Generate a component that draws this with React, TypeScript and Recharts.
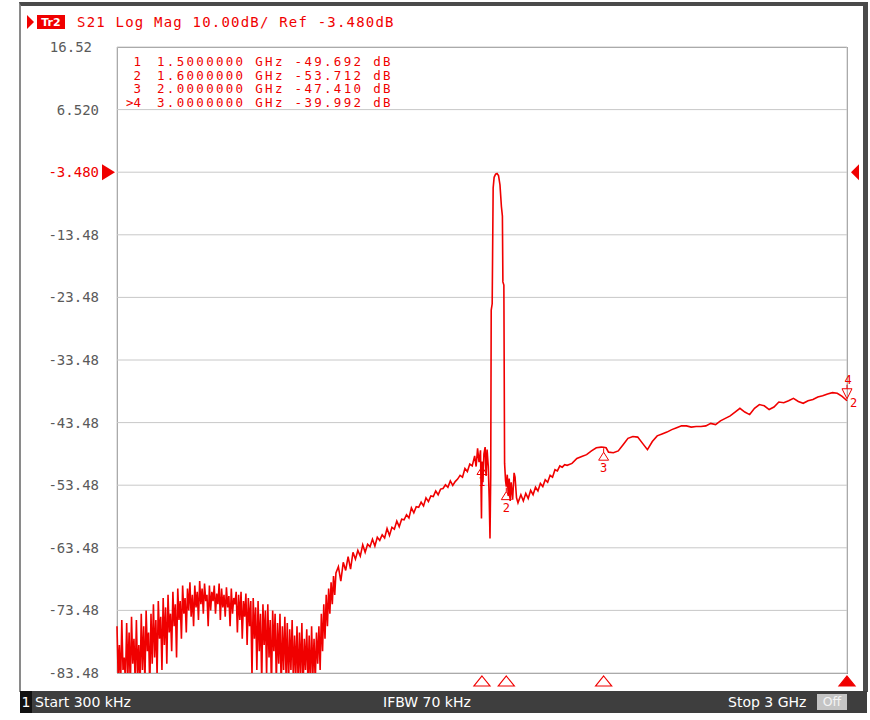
import React from "react";
import { LineChart, Line, XAxis, YAxis, CartesianGrid, ReferenceDot } from "recharts";

// S21 sweep, 300 kHz .. 3 GHz in segments
const noiseFreq = [
  0.0003, 0.005, 0.01, 0.015, 0.02, 0.025, 0.03, 0.035, 0.04, 0.045,
  0.05, 0.055, 0.06, 0.065, 0.07, 0.075, 0.08, 0.085, 0.09, 0.095,
  0.1, 0.105, 0.11, 0.115, 0.12, 0.125, 0.13, 0.135, 0.14, 0.145,
  0.15, 0.155, 0.16, 0.165, 0.17, 0.175, 0.18, 0.185, 0.19, 0.195,
  0.2, 0.205, 0.21, 0.215, 0.22, 0.225, 0.23, 0.235, 0.24, 0.245,
  0.25, 0.255, 0.26, 0.265, 0.27, 0.275, 0.28, 0.285, 0.29, 0.295,
  0.3, 0.305, 0.31, 0.315, 0.32, 0.325, 0.33, 0.335, 0.34, 0.345,
  0.35, 0.355, 0.36, 0.365, 0.37, 0.375, 0.38, 0.385, 0.39, 0.395,
  0.4, 0.405, 0.41, 0.415, 0.42, 0.425, 0.43, 0.435, 0.44, 0.445,
  0.45, 0.455, 0.46, 0.465, 0.47, 0.475, 0.48, 0.485, 0.49, 0.495,
  0.5, 0.505, 0.51, 0.515, 0.52, 0.525, 0.53, 0.535, 0.54, 0.545,
  0.55, 0.555, 0.56, 0.565, 0.57, 0.575, 0.58, 0.585, 0.59, 0.595,
  0.6, 0.605, 0.61, 0.615, 0.62, 0.625, 0.63, 0.635, 0.64, 0.645,
  0.65, 0.655, 0.66, 0.665, 0.67, 0.675, 0.68, 0.685, 0.69, 0.695,
  0.7, 0.705, 0.71, 0.715, 0.72, 0.725, 0.73, 0.735, 0.74, 0.745,
  0.75, 0.755, 0.76, 0.765, 0.77, 0.775, 0.78, 0.785, 0.79, 0.795,
  0.8, 0.805, 0.81, 0.815, 0.82, 0.825, 0.83, 0.835, 0.84, 0.845,
  0.85, 0.855, 0.86, 0.865, 0.87, 0.875, 0.88, 0.885, 0.89, 0.895,
  0.9,
];
const noiseDb = [
  -76, -84, -79, -86, -75, -83, -81, -85, -75.5, -84,
  -77, -86, -74.5, -82, -78, -85, -75, -84, -79, -86,
  -74, -83, -76, -85, -73.5, -80, -77, -86, -74, -82,
  -72.5, -81, -75, -84, -72, -78, -74.5, -83, -71.5, -79,
  -73, -82, -71, -77, -74, -80, -70.5, -76, -72.5, -81,
  -70, -75, -72, -78, -69.5, -74, -71.5, -77, -70, -73.5,
  -69, -74.5, -71, -76, -69.5, -73, -70.5, -75, -68.8, -72.5,
  -70, -74, -69.2, -72, -71, -76, -69.5, -73.5, -70.5, -72,
  -69.5, -74, -70.8, -72.5, -69.2, -75, -70, -73, -71, -74.5,
  -69.8, -73, -71.2, -76, -70, -74, -71.5, -72.5, -70.5, -77,
  -71, -75, -70.5, -78, -72, -74.5, -70.8, -79, -71.5, -76,
  -72, -84, -71.5, -78, -73, -83, -72, -80, -74, -85,
  -72.5, -79, -73.5, -84, -72.5, -81, -75, -86, -73.5, -80,
  -74, -85, -75.5, -82, -74, -86, -76, -83, -74.5, -84,
  -75.5, -86, -76.5, -83, -75, -85, -77.5, -84, -76, -86,
  -77, -84, -75.5, -86, -78, -83, -76.5, -85, -77.5, -86,
  -76, -84, -78, -85, -77, -82, -76, -83, -74, -80,
  -72.5, -78, -71, -76, -70, -74, -69, -72.5, -68, -71,
  -67.5,
];

const riseFreq = [
  0.91, 0.92, 0.93, 0.94, 0.95, 0.96, 0.97, 0.98, 0.99, 1.0,
  1.01, 1.02, 1.03, 1.04, 1.05, 1.06, 1.07, 1.08, 1.09, 1.1,
  1.11, 1.12, 1.13, 1.14, 1.15, 1.16, 1.17, 1.18, 1.19, 1.2,
  1.21, 1.22, 1.23, 1.24, 1.25, 1.26, 1.27, 1.28, 1.29, 1.3,
  1.31, 1.32, 1.33, 1.34, 1.35, 1.36, 1.37, 1.38, 1.39, 1.4,
  1.41, 1.42, 1.43, 1.44, 1.45, 1.46,
];
const riseDb = [
  -66.5, -68.8, -65.8, -67.1, -64.9, -66.9, -64.2, -65.3, -63.9, -64.8,
  -63.0, -64.2, -62.9, -63.3, -62.1, -63.2, -61.8, -62.3, -61.4, -61.9,
  -60.4, -61.5, -60.2, -60.5, -59.2, -60.1, -58.9, -59.0, -58.2, -58.7,
  -57.1, -57.9, -56.9, -57.0, -56.2, -56.8, -55.5, -56.1, -55.2, -55.3,
  -54.4, -55.0, -54.1, -54.0, -53.4, -53.8, -52.8, -53.5, -52.9, -52.5,
  -51.9, -52.2, -50.8, -51.3, -50.1, -50.4,
];

const peakFreq = [
  1.47, 1.476, 1.482, 1.488, 1.494, 1.498, 1.5, 1.504, 1.508, 1.513,
  1.517, 1.521, 1.526, 1.53, 1.533, 1.536, 1.538, 1.542, 1.546, 1.55,
  1.556, 1.562, 1.568, 1.574, 1.58, 1.584, 1.586, 1.59, 1.593, 1.597,
  1.6, 1.604, 1.608, 1.612, 1.616, 1.62, 1.626, 1.632, 1.636, 1.642,
  1.648,
];
const peakDb = [
  -48.8, -50.5, -47.6, -49.8, -47.9, -58.8, -49.692, -53.0, -48.5, -47.4,
  -52.0, -47.8, -50.5, -56.0, -62.0, -52.0, -25.5, -24.5, -6.0, -4.3,
  -3.8, -3.7, -4.0, -5.5, -9.0, -10.5, -21.0, -21.5, -50.0, -52.8,
  -53.712, -51.8, -55.2, -52.4, -56.0, -53.0, -55.8, -51.5, -52.2, -55.5,
  -56.3,
];

const tailFreq = [
  1.66, 1.67, 1.68, 1.69, 1.7, 1.71, 1.72, 1.73, 1.74, 1.75,
  1.76, 1.77, 1.78, 1.79, 1.8, 1.81, 1.82, 1.83, 1.84, 1.85,
  1.87, 1.89, 1.91, 1.93, 1.95, 1.97, 1.99, 2.0, 2.01, 2.02,
  2.04, 2.06, 2.08, 2.1, 2.12, 2.14, 2.16, 2.18, 2.2, 2.22,
  2.24, 2.26, 2.28, 2.3, 2.32, 2.34, 2.36, 2.38, 2.4, 2.42,
  2.44, 2.46, 2.48, 2.5, 2.52, 2.54, 2.56, 2.58, 2.6, 2.62,
  2.64, 2.66, 2.68, 2.7, 2.72, 2.74, 2.76, 2.78, 2.8, 2.82,
  2.84, 2.86, 2.88, 2.9, 2.92, 2.94, 2.96, 2.98, 3.0,
];
const tailDb = [
  -55.0, -56.0, -54.8, -55.6, -54.3, -55.0, -53.8, -54.4, -53.2, -53.7,
  -52.6, -53.0, -51.9, -52.2, -51.0, -51.2, -50.4, -50.6, -50.2, -50.3,
  -50.0, -49.2, -48.9, -48.6, -48.0, -47.5, -47.4, -47.41, -47.5, -48.2,
  -48.3, -48.0, -47.0, -46.0, -45.7, -45.8, -46.8, -47.8, -46.5, -45.6,
  -45.3, -45.0, -44.6, -44.3, -44.0, -44.0, -44.2, -44.1, -44.1, -44.0,
  -43.6, -43.8, -43.2, -42.8, -42.4, -41.8, -41.2, -41.8, -42.2, -41.2,
  -40.6, -40.8, -41.4, -41.0, -40.2, -40.3, -40.0, -39.6, -40.1, -40.4,
  -40.0, -39.8, -39.4, -39.2, -38.9, -38.7, -38.8, -39.3, -39.992,
];

const yTicks = [16.52, 6.52, -3.48, -13.48, -23.48, -33.48, -43.48, -53.48, -63.48, -73.48, -83.48];
const yTickLabels = ["16.52", "6.520", "-3.480", "-13.48", "-23.48", "-33.48", "-43.48", "-53.48", "-63.48", "-73.48", "-83.48"];
const xTicks = [0.0003, 0.3, 0.6, 0.9, 1.2, 1.5, 1.8, 2.1, 2.4, 2.7, 3.0];
const refLevel = -3.48;

const markerIds = ["1", "2", "3", "4"];
const markerFreq = [1.5, 1.6, 2.0, 3.0];
const markerVal = [-49.692, -53.712, -47.41, -39.992];
const markerFreqText = ["1.5000000", "1.6000000", "2.0000000", "3.0000000"];
const activeMarker = 3;

const RED = "#f00000";
const MONO = "'DejaVu Sans Mono', monospace";
const SANS = "'DejaVu Sans', sans-serif";

const freqGHz = [...noiseFreq, ...riseFreq, ...peakFreq, ...tailFreq];
const s21dB = [...noiseDb, ...riseDb, ...peakDb, ...tailDb];
const data = freqGHz.map((f, i) => ({ f, v: s21dB[i] }));

const YTick = (props: any) => {
  const { y, payload } = props;
  const i = yTicks.indexOf(payload.value);
  const isRef = payload.value === refLevel;
  return (
    <g>
      <text x={i === 0 ? 92 : 99} y={y} dy={5} textAnchor="end" fontFamily={MONO} fontSize={14} fill={isRef ? RED : "#5a5a5a"}>
        {yTickLabels[i]}
      </text>
      {isRef && <polygon points={`102,${y - 8} 115,${y} 102,${y + 8}`} fill={RED} />}
    </g>
  );
};

const traceMarker = (id: string, active: boolean) => (p: any) => {
  const { cx, cy } = p;
  if (active) {
    return (
      <g>
        <text x={cx + 1} y={cy - 17} textAnchor="middle" fontFamily={MONO} fontSize={12} fill={RED}>{id}</text>
        <line x1={cx} y1={cy - 16} x2={cx} y2={cy - 12} stroke={RED} />
        <polygon points={`${cx - 5},${cy - 12} ${cx + 5},${cy - 12} ${cx},${cy - 2}`} fill="none" stroke={RED} />
        <text x={cx + 3} y={cy + 6} fontFamily={MONO} fontSize={12} fill={RED}>2</text>
      </g>
    );
  }
  return (
    <g>
      <line x1={cx} y1={cy + 1} x2={cx} y2={cy + 5} stroke={RED} />
      <polygon points={`${cx},${cy + 5} ${cx + 5},${cy + 13} ${cx - 5},${cy + 13}`} fill="none" stroke={RED} />
      <text x={cx} y={cy + 25} textAnchor="middle" fontFamily={MONO} fontSize={12} fill={RED}>{id}</text>
    </g>
  );
};

const axisMarker = (active: boolean) => (p: any) => {
  const { cx, cy } = p;
  return (
    <polygon
      points={`${cx},${cy + 3} ${cx + 8},${cy + 13} ${cx - 8},${cy + 13}`}
      fill={active ? RED : "none"}
      stroke={RED}
      strokeWidth={1.2}
    />
  );
};

const refArrow = (p: any) => {
  const { cx, cy } = p;
  return <polygon points={`${cx + 4},${cy} ${cx + 12},${cy - 8} ${cx + 12},${cy + 8}`} fill={RED} />;
};

export default function App() {
  return (
    <div style={{ position: "absolute", left: 0, top: 0, width: 870, height: 720, background: "#fff", overflow: "hidden" }}>
      {/* instrument window */}
      <div
        style={{
          position: "absolute", left: 19, top: 2, width: 849, height: 690,
          borderTop: "4px solid #4a4a4a", borderLeft: "2px solid #8a8a8a", borderRight: "5px solid #4a4a4a",
          boxSizing: "border-box",
        }}
      />
      {/* plot frame */}
      <div style={{ position: "absolute", left: 117, top: 47, width: 731, height: 627, border: "1px solid #8c8c8c", boxSizing: "border-box" }} />

      <div style={{ position: "absolute", left: 0, top: 0 }}>
        <LineChart width={870} height={720} data={data} margin={{ top: 47, right: 23, bottom: 47, left: 0 }}>
          <CartesianGrid stroke="#c8c8c8" />
          <XAxis
            dataKey="f"
            type="number"
            domain={[0.0003, 3]}
            ticks={xTicks}
            tick={false}
            tickLine={false}
            axisLine={false}
            height={0}
          />
          <YAxis
            type="number"
            domain={[-83.48, 16.52]}
            ticks={yTicks}
            interval={0}
            width={117}
            tick={<YTick />}
            tickLine={false}
            axisLine={false}
            allowDataOverflow
          />
          <Line
            dataKey="v"
            type="linear"
            stroke={RED}
            strokeWidth={1.6}
            dot={false}
            activeDot={false}
            isAnimationActive={false}
          />
          {markerIds.map((id, i) => (
            <ReferenceDot key={"m" + id} x={markerFreq[i]} y={markerVal[i]} r={0} shape={traceMarker(id, i === activeMarker)} />
          ))}
          {markerIds.map((id, i) => (
            <ReferenceDot key={"a" + id} x={markerFreq[i]} y={-83.48} r={0} shape={axisMarker(i === activeMarker)} />
          ))}
          <ReferenceDot x={3} y={refLevel} r={0} shape={refArrow} />
        </LineChart>
      </div>

      {/* header */}
      <svg style={{ position: "absolute", left: 0, top: 0 }} width={870} height={40}>
        <polygon points="27,15 34,22 27,29" fill={RED} />
        <rect x={37} y={15} width={28} height={14} fill={RED} />
        <text x={51} y={26} textAnchor="middle" fontFamily={SANS} fontSize={11} fontWeight="bold" fill="#fff">Tr2</text>
        <text x={77} y={27} fontFamily={MONO} fontSize={14} letterSpacing={1.2} fill={RED}>
          S21 Log Mag 10.00dB/ Ref -3.480dB
        </text>
      </svg>

      {/* marker readout */}
      <svg style={{ position: "absolute", left: 0, top: 0 }} width={870} height={120}>
        {markerIds.map((id, i) => (
          <g key={id} fontFamily={MONO} fontSize={12.5} fill={RED}>
            <text x={141} y={66 + i * 13.6} textAnchor="end">{(i === activeMarker ? ">" : "") + id}</text>
            <text x={157} y={66 + i * 13.6} letterSpacing={2.3}>
              {`${markerFreqText[i]} GHz ${markerVal[i].toFixed(3)} dB`}
            </text>
          </g>
        ))}
      </svg>

      {/* status bar */}
      <div style={{ position: "absolute", left: 20, top: 691, width: 847, height: 22, background: "#3e3e3e", fontFamily: SANS, fontSize: 14, color: "#fff" }}>
        <div style={{ position: "absolute", left: 0, top: 0, width: 12, height: 22, background: "#111", textAlign: "center", lineHeight: "22px" }}>1</div>
        <div style={{ position: "absolute", left: 15, top: 0, lineHeight: "22px" }}>Start 300 kHz</div>
        <div style={{ position: "absolute", left: 363, top: 0, lineHeight: "22px" }}>IFBW 70 kHz</div>
        <div style={{ position: "absolute", left: 708, top: 0, lineHeight: "22px" }}>Stop 3 GHz</div>
        <div style={{ position: "absolute", left: 797, top: 3, width: 30, height: 16, background: "#c4c4c4", color: "#f4f4f4", textAlign: "center", lineHeight: "16px", fontSize: 12.5 }}>Off</div>
      </div>
    </div>
  );
}
